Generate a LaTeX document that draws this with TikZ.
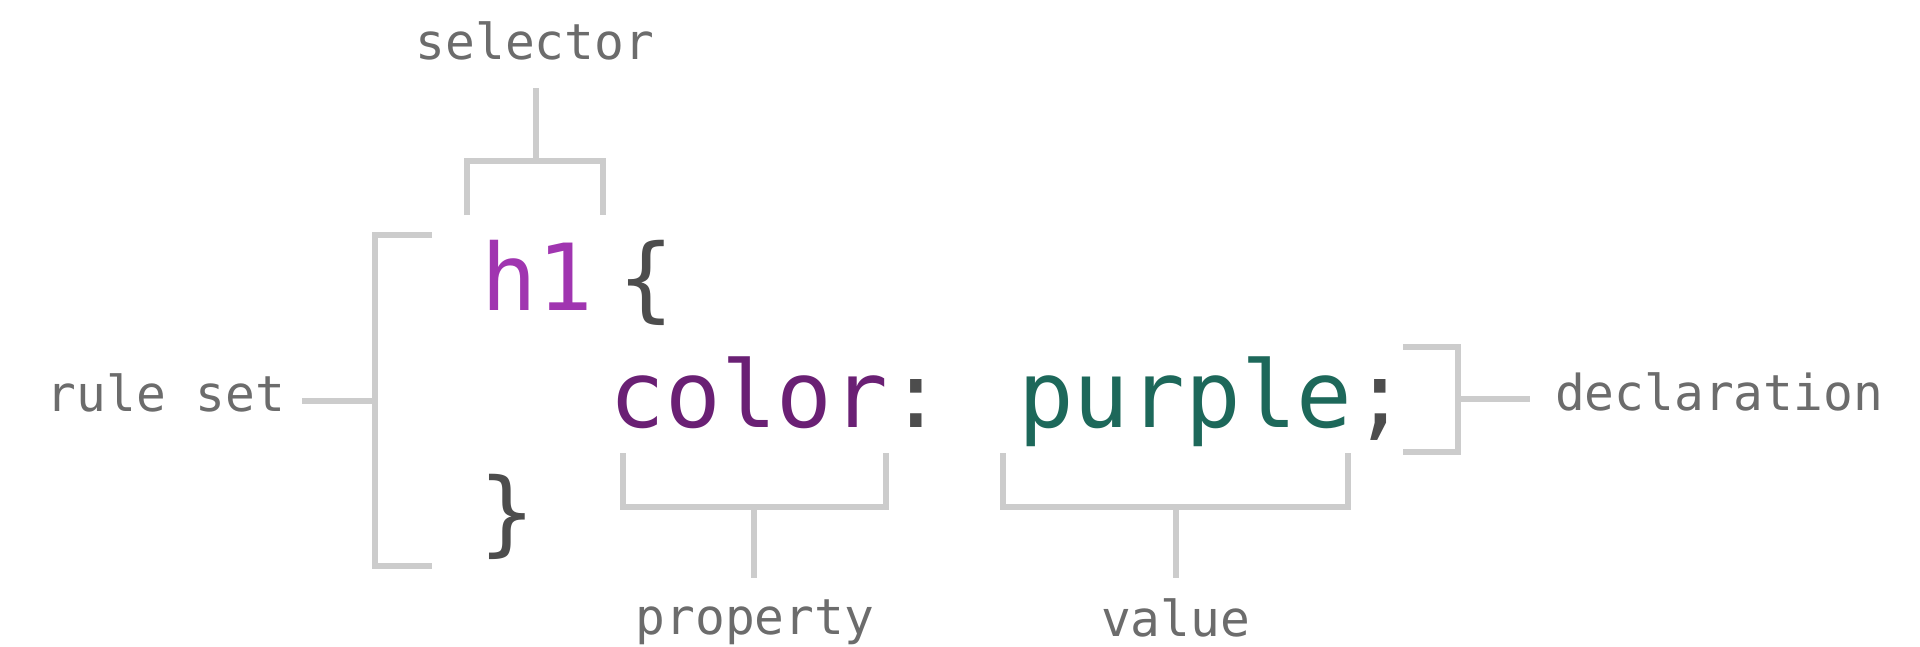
\documentclass[tikz,border=0pt]{standalone}
\usepackage{fontspec}
\usepackage{tikz}
\usepackage{xcolor}
\newfontfamily\monofont{DejaVu Sans Mono}
\definecolor{brkgray}{RGB}{204,204,204}
\definecolor{lblgray}{RGB}{108,108,108}
\definecolor{selcol}{RGB}{160,53,176}
\definecolor{propcol}{RGB}{106,32,116}
\definecolor{valcol}{RGB}{29,104,90}
\definecolor{punccol}{RGB}{77,77,77}

\begin{document}
\begin{tikzpicture}[x=0.5pt,y=0.5pt,yscale=-1,xscale=1,
  brk/.style={draw=brkgray,line width=2.75pt,line join=miter},
  lbl/.style={anchor=base,inner sep=0pt,text=lblgray,font=\monofont\fontsize{24.75}{30}\selectfont},
  code/.style={anchor=base,inner sep=0pt,font=\monofont\fontsize{46.25}{55}\selectfont}]
\useasboundingbox (0,0) rectangle (1920,647);

% Code
\draw (537,310) node [code,text=selcol] (sel) {h1};
\draw (646,310) node [code,text=punccol] (open) {\{};
\draw (1009,427) node [code] (decl) {\textcolor{propcol}{color}\textcolor{punccol}{:} \textcolor{valcol}{purple}\textcolor{punccol}{;}};
\draw (507,544) node [code,text=punccol] (close) {\}};

% Text Node
\draw (535,60) node [lbl] (selector) {selector};
% Text Node
\draw (166,411) node [lbl] (ruleset) {rule set};
% Text Node
\draw (755,634) node [lbl] (property) {property};
% Text Node
\draw (1175.5,636) node [lbl] (value) {value};
% Text Node
\draw (1719,410) node [lbl] (declaration) {declaration};

% stem ends
\coordinate (sel-tip) at (536,88);
\coordinate (rule-tip) at (302,401);
\coordinate (prop-tip) at (754,578);
\coordinate (val-tip) at (1176,578);
\coordinate (decl-tip) at (1530,399);

%Shape: Bracket selector
\draw [brk] (467,215) -- (467,161) -- (603,161) -- (603,215) ;
\draw [brk] (536,161) -- (sel-tip) ;
%Shape: Bracket rule set
\draw [brk] (432,235) -- (375,235) -- (375,566) -- (432,566) ;
\draw [brk] (375,401) -- (rule-tip) ;
%Shape: Bracket property
\draw [brk] (623,453) -- (623,507) -- (886,507) -- (886,453) ;
\draw [brk] (754,507) -- (prop-tip) ;
%Shape: Bracket value
\draw [brk] (1003,453) -- (1003,507) -- (1348,507) -- (1348,453) ;
\draw [brk] (1176,507) -- (val-tip) ;
%Shape: Bracket declaration
\draw [brk] (1403,347) -- (1458,347) -- (1458,452) -- (1403,452) ;
\draw [brk] (1458,399) -- (decl-tip) ;
\end{tikzpicture}
\end{document}
